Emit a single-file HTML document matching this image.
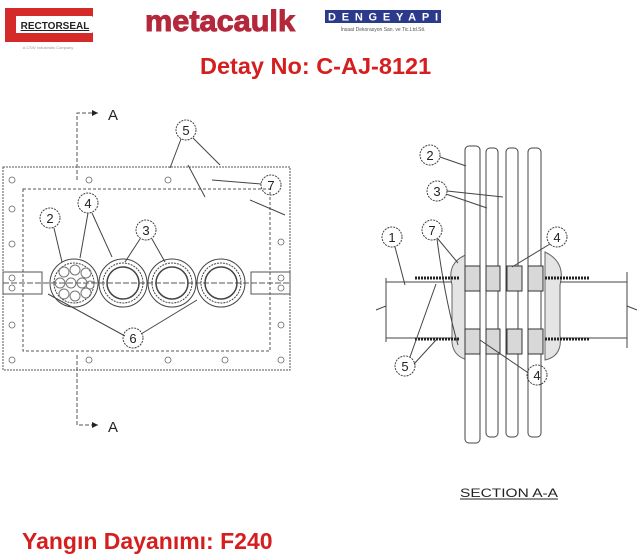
<!DOCTYPE html>
<html><head><meta charset="utf-8"><style>
body{margin:0;width:640px;height:560px;background:#fff;overflow:hidden;position:relative;font-family:"Liberation Sans",sans-serif}
.t{position:absolute;color:#d51f1f;font-weight:bold;white-space:nowrap}
</style></head><body>
<svg width="640" height="560" style="position:absolute;left:0;top:0" font-family="Liberation Sans, sans-serif">
<rect x="5" y="8" width="88" height="34" fill="#d42a2a"/>
<polygon points="16,16 92,16 100,25 92,33 16,33" fill="#fff"/>
<text x="55" y="29" font-size="10" font-weight="bold" text-anchor="middle" fill="#222" text-decoration="underline">RECTORSEAL</text>
<text x="48" y="49" font-size="4" text-anchor="middle" fill="#999">A CSW Industrials Company</text>
<text x="145" y="31" font-size="30" font-weight="bold" fill="#b3283a" stroke="#b3283a" stroke-width="1" textLength="150" lengthAdjust="spacingAndGlyphs">metacaulk</text>
<rect x="325" y="10" width="116" height="13" fill="#2c3a8c"/>
<text x="383" y="20.5" font-size="11" font-weight="bold" fill="#fff" text-anchor="middle" textLength="110" lengthAdjust="spacing">DENGEYAPI</text>
<text x="383" y="31" font-size="5" fill="#555" text-anchor="middle">İnsaat Dekorasyon San. ve Tic.Ltd.Sti.</text>

<g fill="none" stroke="#555" stroke-width="1">
<rect x="3" y="167" width="287" height="203" stroke-dasharray="2,1"/>
<rect x="23" y="189" width="247" height="162" stroke-dasharray="3,2"/>
<path d="M77 180 V113 H98 M77 355 V425 H98" stroke-dasharray="4,2"/>
<rect x="3" y="272" width="39" height="22"/>
<rect x="251" y="272" width="39" height="22"/>
<path d="M3 283 H290" stroke-dasharray="6,2"/>
<g stroke="#444">
<circle cx="74" cy="283" r="24"/><circle cx="74" cy="283" r="20" stroke-dasharray="2,1"/>
<circle cx="123" cy="283" r="24"/><circle cx="123" cy="283" r="20" stroke-dasharray="2,1"/><circle cx="123" cy="283" r="16" stroke-width="1.5"/>
<circle cx="172" cy="283" r="24"/><circle cx="172" cy="283" r="20" stroke-dasharray="2,1"/><circle cx="172" cy="283" r="16" stroke-width="1.5"/>
<circle cx="221" cy="283" r="24"/><circle cx="221" cy="283" r="20" stroke-dasharray="2,1"/><circle cx="221" cy="283" r="16" stroke-width="1.5"/>
</g>
<g stroke="#777">
<circle cx="64" cy="272" r="5"/><circle cx="75" cy="270" r="5"/><circle cx="86" cy="273" r="5"/>
<circle cx="60" cy="283" r="5"/><circle cx="71" cy="283" r="5"/><circle cx="82" cy="283" r="5"/><circle cx="90" cy="285" r="4"/>
<circle cx="64" cy="294" r="5"/><circle cx="75" cy="296" r="5"/><circle cx="86" cy="293" r="5"/>
</g>
<g stroke="#666" stroke-width="0.8">
<circle cx="12" cy="180" r="3"/><circle cx="89" cy="180" r="3"/><circle cx="168" cy="180" r="3"/>
<circle cx="12" cy="360" r="3"/><circle cx="89" cy="360" r="3"/><circle cx="168" cy="360" r="3"/><circle cx="225" cy="360" r="3"/><circle cx="281" cy="360" r="3"/>
<circle cx="12" cy="209" r="3"/><circle cx="12" cy="244" r="3"/><circle cx="12" cy="278" r="3"/><circle cx="12" cy="288" r="3"/><circle cx="12" cy="325" r="3"/>
<circle cx="281" cy="242" r="3"/><circle cx="281" cy="278" r="3"/><circle cx="281" cy="288" r="3"/><circle cx="281" cy="325" r="3"/>
</g>
<g stroke="#444" stroke-dasharray="2,1">
<circle cx="186" cy="130" r="10"/><circle cx="88" cy="203" r="10"/><circle cx="50" cy="218" r="10"/>
<circle cx="146" cy="230" r="10"/><circle cx="133" cy="338" r="10"/><circle cx="271" cy="185" r="10"/>
</g>
<path d="M181 139 L170 168 M193 138 L220 165 M88 213 L80 258 M92 213 L112 257 M54 228 L62 262 M140 239 L125 262 M152 239 L165 262 M125 336 L48 294 M141 334 L197 300 M261 184 L212 180 M188 165 L205 197 M250 200 L285 215" stroke="#444"/>
<!-- sealant bumps -->
<path d="M468 254 Q446 262 452 285 L452 335 Q450 356 468 360 Z" fill="#e4e4e4" stroke="#666"/>
<path d="M545 252 Q566 262 560 285 L560 335 Q563 356 545 360 Z" fill="#e4e4e4" stroke="#666"/>
<g stroke="#444">
<rect x="465" y="146" width="15" height="297" rx="4" fill="#fff"/>
<rect x="486" y="148" width="12" height="289" rx="4" fill="#fff"/>
<rect x="506" y="148" width="12" height="289" rx="4" fill="#fff"/>
<rect x="528" y="148" width="13" height="289" rx="4" fill="#fff"/>
</g>
<path d="M386 282 H452 M386 338 H452 M560 282 H627 M560 338 H627 M386 278 V342 M627 272 V348 M376 310 L386 306 M627 306 L637 310" stroke="#444"/>
<path d="M415 278 H460 M415 339 H460 M545 278 H590 M545 339 H590" stroke="#222" stroke-width="3" stroke-dasharray="2,1"/>
<g fill="#d8d8d8" stroke="#333">
<rect x="465" y="266" width="15" height="25"/><rect x="486" y="266" width="14" height="25"/><rect x="507" y="266" width="15" height="25"/><rect x="528" y="266" width="15" height="25"/>
<rect x="465" y="329" width="15" height="25"/><rect x="486" y="329" width="14" height="25"/><rect x="507" y="329" width="15" height="25"/><rect x="528" y="329" width="15" height="25"/>
</g>
<g stroke="#444" stroke-dasharray="2,1">
<circle cx="430" cy="155" r="10"/><circle cx="437" cy="191" r="10"/><circle cx="392" cy="237" r="10"/>
<circle cx="432" cy="230" r="10"/><circle cx="557" cy="237" r="10"/><circle cx="405" cy="366" r="10"/><circle cx="537" cy="375" r="10"/>
</g>
<path d="M440 157 L466 166 M447 191 L503 197 M446 194 L487 208 M395 247 L405 285 M438 239 L458 263 M437 239 Q445 300 458 345 M410 357 L436 284 M414 364 L436 340 M550 244 L512 267 M527 372 L480 340" stroke="#444"/>
</g>
<g font-size="13" fill="#222" text-anchor="middle">
<text x="186" y="135">5</text><text x="88" y="208">4</text><text x="50" y="223">2</text><text x="146" y="235">3</text><text x="133" y="343">6</text><text x="271" y="190">7</text>
<text x="430" y="160">2</text><text x="437" y="196">3</text><text x="392" y="242">1</text><text x="432" y="235">7</text><text x="557" y="242">4</text><text x="405" y="371">5</text><text x="537" y="380">4</text>
</g>
<text x="108" y="120" font-size="15" fill="#222">A</text>
<text x="108" y="432" font-size="15" fill="#222">A</text>
<path d="M98 113 l-6 -3 v6z M98 425 l-6 -3 v6z" fill="#222"/>
<text x="460" y="497" font-size="12" fill="#222" textLength="98" lengthAdjust="spacingAndGlyphs">SECTION A-A</text>
<path d="M460 499 H558" stroke="#222"/>
</svg>
<div class="t" style="left:200px;top:53px;font-size:23.5px">Detay No: C-AJ-8121</div>
<div class="t" style="left:22px;top:528px;font-size:23px">Yangın Dayanımı: F240</div>
</body></html>
